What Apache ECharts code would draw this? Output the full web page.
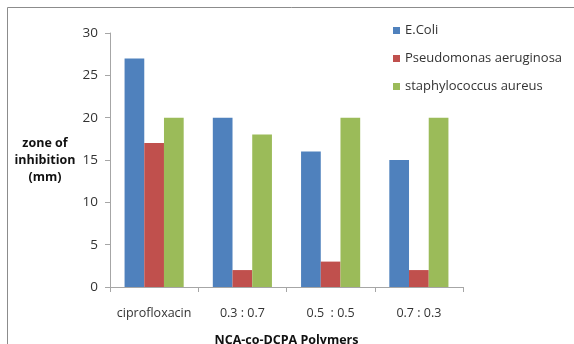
<!DOCTYPE html>
<html>
<head>
<meta charset="utf-8">
<script src="https://cdn.jsdelivr.net/npm/echarts@6/dist/echarts.min.js"></script>
<style>
  html, body { margin: 0; padding: 0; background: #fff; }
  #chart { width: 574px; height: 344px; }
</style>
</head>
<body>
<div id="chart"></div>
<script>
// data
const categories = ['ciprofloxacin', '0.3 : 0.7', '0.5  : 0.5', '0.7 : 0.3'];
const eColi = [27, 20, 16, 15];
const pseudomonas = [17, 2, 3, 2];
const staph = [20, 18, 20, 20];
const yTicks = { min: 0, max: 30, interval: 5 };

const font = '"Open Sans", sans-serif';
const chart = echarts.init(document.getElementById('chart'));

chart.setOption({
    animation: false,
    backgroundColor: '#fff',
    textStyle: { fontFamily: font },
    graphic: [{
        type: 'rect',
        shape: { x: 7.5, y: 7.5, width: 600, height: 400 },
        style: { fill: 'none', stroke: '#8c8c8c', lineWidth: 1 },
        silent: true
    }],
    grid: { left: 110, right: 111, top: 33, bottom: 57, containLabel: false, outerBoundsMode: 'none' },
    legend: {
        orient: 'vertical',
        left: 388,
        top: 19,
        itemWidth: 7,
        itemHeight: 7,
        itemGap: 15,
        icon: 'rect',
        textStyle: { fontSize: 13, color: '#333', fontFamily: font },
        data: ['E.Coli', 'Pseudomonas aeruginosa', 'staphylococcus aureus']
    },
    xAxis: {
        type: 'category',
        data: categories,
        name: 'NCA-co-DCPA Polymers',
        nameLocation: 'middle',
        nameGap: 47,
        nameTextStyle: { fontWeight: 'bold', fontSize: 12.5, color: '#111' },
        axisLine: { lineStyle: { color: '#a6a6a6' } },
        axisTick: { show: true, length: 5, lineStyle: { color: '#a6a6a6' } },
        axisLabel: { interval: 0, fontSize: 12.5, color: '#333', margin: 20 }
    },
    yAxis: {
        type: 'value',
        min: yTicks.min,
        max: yTicks.max,
        interval: yTicks.interval,
        name: 'zone of\ninhibition\n(mm)',
        nameLocation: 'middle',
        nameRotate: 0,
        nameGap: 65,
        nameTextStyle: { fontWeight: 'bold', fontSize: 12.5, color: '#111', align: 'center', verticalAlign: 'middle', lineHeight: 17 },
        axisLine: { show: true, lineStyle: { color: '#a6a6a6' } },
        axisTick: { show: true, length: 5, lineStyle: { color: '#a6a6a6' } },
        splitLine: { show: false },
        axisLabel: { fontSize: 13.5, color: '#333', margin: 12 }
    },
    series: [
        { name: 'E.Coli', type: 'bar', data: eColi, barGap: '0%', barCategoryGap: '33%',
          itemStyle: { color: '#4f81bd' } },
        { name: 'Pseudomonas aeruginosa', type: 'bar', data: pseudomonas,
          itemStyle: { color: '#c0504d' } },
        { name: 'staphylococcus aureus', type: 'bar', data: staph,
          itemStyle: { color: '#9bbb59' } }
    ]
});
</script>
</body>
</html>
